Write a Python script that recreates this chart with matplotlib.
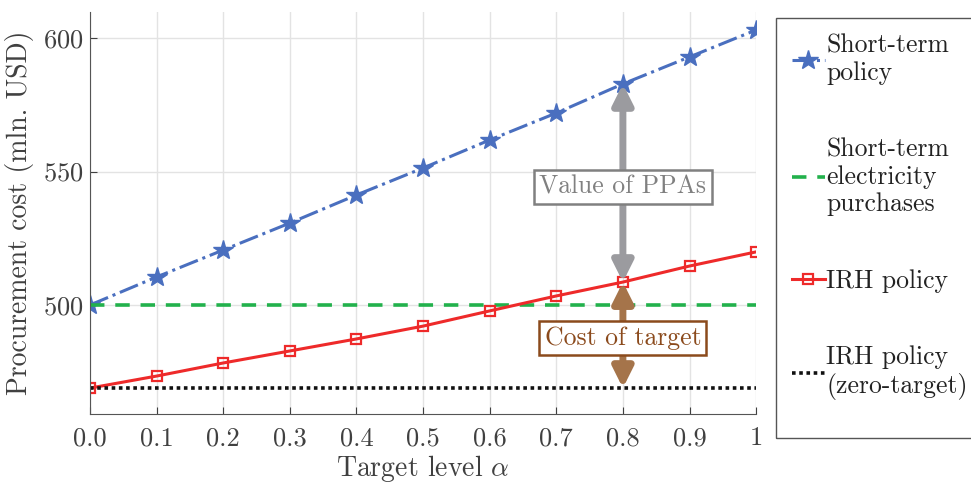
import matplotlib
matplotlib.use('Agg')
import matplotlib.pyplot as plt
from matplotlib.patches import Rectangle

plt.rcParams['font.family'] = 'serif'
plt.rcParams['font.serif'] = ['cmr10', 'DejaVu Serif']
plt.rcParams['mathtext.fontset'] = 'cm'
plt.rcParams['axes.formatter.use_mathtext'] = True

alpha = [0.0, 0.1, 0.2, 0.3, 0.4, 0.5, 0.6, 0.7, 0.8, 0.9, 1.0]
xtick_labels = ["0.0", "0.1", "0.2", "0.3", "0.4", "0.5", "0.6", "0.7", "0.8", "0.9", "1"]
short_term = [500.0, 510.5, 520.6, 530.7, 541.2, 551.3, 561.8, 571.9, 582.8, 592.9, 603.0]
irh = [468.9, 473.4, 478.3, 482.8, 487.3, 492.1, 497.8, 503.4, 508.6, 514.6, 519.9]
short_purchases = 500.0
irh_zero = 468.9
arrow_x = 0.8

TXT = "#404040"
BLUE = "#4a6fbf"
RED = "#ee2a2a"
GREEN = "#22b14c"
GRAY = "#9b9b9f"
BROWN = "#a5744a"

fig = plt.figure(figsize=(9.71, 4.83), dpi=100)
ax = fig.add_axes([0.0927, 0.1429, 0.686, 0.8321])

ax.plot(alpha, short_term, color=BLUE, linestyle="-.", linewidth=2.2,
        marker="*", markersize=15, label="Short-term\npolicy")
ax.axhline(short_purchases, color=GREEN, linestyle=(0, (4, 3)), linewidth=2.6,
           label="Short-term\nelectricity\npurchases")
ax.plot(alpha, irh, color=RED, linestyle="-", linewidth=2.2,
        marker="s", markersize=7, markerfacecolor="none", markeredgewidth=1.6,
        label="IRH policy")
ax.axhline(irh_zero, color="#111111", linestyle=(0, (1, 1)), linewidth=2.6,
           label="IRH policy\n(zero-target)")

# arrows
i8 = alpha.index(arrow_x)
ax.annotate("", xy=(arrow_x, irh[i8]), xytext=(arrow_x, short_term[i8]),
            arrowprops=dict(arrowstyle="<|-|>", color=GRAY, lw=5,
                            mutation_scale=30, shrinkA=0, shrinkB=0))
ax.annotate("", xy=(arrow_x, irh_zero), xytext=(arrow_x, irh[i8]),
            arrowprops=dict(arrowstyle="<|-|>", color=BROWN, lw=5,
                            mutation_scale=30, shrinkA=0, shrinkB=0))
ax.text(arrow_x, (short_term[i8] + irh[i8]) / 2 - 1.5, "Value of PPAs", ha="center",
        va="center", fontsize=18.5, color="#808080",
        bbox=dict(boxstyle="square,pad=0.2", fc="white", ec="#808080", lw=1.8))
ax.text(arrow_x, (irh[i8] + irh_zero) / 2 - 1.0, "Cost of target", ha="center",
        va="center", fontsize=18.5, color="#8b4a1c",
        bbox=dict(boxstyle="square,pad=0.2", fc="white", ec="#8b4a1c", lw=1.8))

ax.set_xlim(0, 1)
ax.set_ylim(459.2, 609.7)
ax.set_xticks(alpha)
ax.set_xticklabels(xtick_labels)
ax.set_yticks([500, 550, 600])
ax.tick_params(direction="in", labelsize=19, colors=TXT, length=5, width=0.8)
ax.tick_params(axis="x", pad=9)
ax.tick_params(axis="y", pad=5)
ax.set_xlabel(r"Target level $\alpha$", fontsize=20, color=TXT, labelpad=2)
ax.set_ylabel("Procurement cost (mln. USD)", fontsize=20, color=TXT, labelpad=6)
ax.grid(color="#e3e3e3", linewidth=1)
ax.set_axisbelow(True)
for s in ["top", "right"]:
    ax.spines[s].set_visible(False)
for s in ["left", "bottom"]:
    ax.spines[s].set_color("#555555")

leg = ax.legend(loc="upper left", bbox_to_anchor=(1.03, 0.985), fontsize=18.5,
                labelspacing=2.05, handlelength=1.3, handletextpad=0.05,
                borderpad=0.6, borderaxespad=0, frameon=False,
                labelcolor="#222222")

# legend box, running past the right edge of the figure
fig.patches.append(Rectangle((776 / 971, 45 / 483), 0.25, 420 / 483,
                             transform=fig.transFigure, fill=False,
                             edgecolor="#555555", linewidth=1.0))

fig.savefig("out.png", dpi=100)
